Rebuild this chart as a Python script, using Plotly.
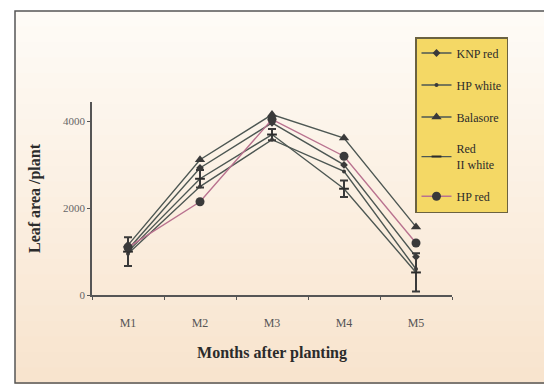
import plotly.graph_objects as go

# Leaf area per plant over five months for five cultivars
months = ["M1", "M2", "M3", "M4", "M5"]
knp_red = [1050, 2930, 3970, 3000, 880]
hp_white = [950, 2500, 3580, 2850, 600]
balasore = [1150, 3120, 4160, 3620, 1570]
red_ii_white = [1000, 2680, 3700, 2450, 520]
red_ii_white_err = [330, 200, 130, 190, 440]
hp_red = [1100, 2150, 4050, 3200, 1200]

y_ticks = [0, 2000, 4000]

SERIF = "Liberation Serif"
LINE = "#4d5753"
INK = "#2b2b2b"

fig = go.Figure()

series = [
    ("KNP red", knp_red, dict(symbol="diamond", size=6), LINE, None),
    ("HP white", hp_white, dict(symbol="circle", size=4), LINE, None),
    ("Balasore", balasore, dict(symbol="triangle-up", size=9), LINE, None),
    ("Red<br>II white", red_ii_white, dict(symbol="line-ew", size=7,
                                           line=dict(width=2, color=INK)), LINE,
     red_ii_white_err),
    ("HP red", hp_red, dict(symbol="circle", size=9), "#b9728f", None),
]

for i, (name, vals, mk, col, err) in enumerate(series):
    mk = dict(mk)
    mk.setdefault("color", "#3a3a3a")
    tr = go.Scatter(
        x=months, y=vals, name=name, mode="lines+markers",
        line=dict(color=col, width=1.4), marker=mk,
        legendgroup=f"g{i}",
    )
    if err is not None:
        tr.error_y = dict(type="data", array=err, visible=True,
                          color="#3a3a3a", thickness=2, width=4)
    fig.add_trace(tr)

# Page background: soft vertical wash inside a thin frame
def px_to_paper_x(px):
    return (px - 92) / 360

def px_to_paper_y(py):
    return (295 - py) / 193

top_rgb = (254, 251, 246)
bot_rgb = (248, 228, 206)
n_bands = 24
y0_px, y1_px = 11, 383
shapes = []
for k in range(n_bands):
    t = k / (n_bands - 1)
    r = round(top_rgb[0] + (bot_rgb[0] - top_rgb[0]) * t)
    g = round(top_rgb[1] + (bot_rgb[1] - top_rgb[1]) * t)
    b = round(top_rgb[2] + (bot_rgb[2] - top_rgb[2]) * t)
    a = y0_px + (y1_px - y0_px) * k / n_bands
    c = y0_px + (y1_px - y0_px) * (k + 1) / n_bands + 1
    shapes.append(dict(
        type="rect", xref="paper", yref="paper", layer="below",
        x0=px_to_paper_x(15), x1=px_to_paper_x(548),
        y0=px_to_paper_y(c), y1=px_to_paper_y(a),
        fillcolor=f"rgb({r},{g},{b})", line=dict(width=0),
    ))
shapes.append(dict(
    type="rect", xref="paper", yref="paper", layer="below",
    x0=px_to_paper_x(15), x1=px_to_paper_x(548),
    y0=px_to_paper_y(383), y1=px_to_paper_y(11),
    fillcolor="rgba(0,0,0,0)", line=dict(color="#555555", width=1.5),
))

fig.update_layout(
    width=544, height=387,
    margin=dict(l=92, r=92, t=102, b=92),
    paper_bgcolor="white",
    plot_bgcolor="rgba(0,0,0,0)",
    shapes=shapes,
    showlegend=True,
    legend=dict(
        x=px_to_paper_x(415), y=px_to_paper_y(37),
        xanchor="left", yanchor="top",
        bgcolor="#f4d865", bordercolor="#6b6240", borderwidth=1.5,
        font=dict(family=SERIF, size=12, color=INK),
        traceorder="grouped", tracegroupgap=13, itemwidth=30,
    ),
    xaxis=dict(
        type="category", range=[-0.5, 4.5],
        showgrid=False, zeroline=False,
        showline=True, linecolor="#555555", linewidth=1.5,
        ticks="outside", ticklen=3, tickcolor="#555555",
        tickson="boundaries",
        tickfont=dict(family=SERIF, size=12, color="#555555"),
        ticklabelstandoff=16,
        title=dict(text="<b>Months after planting</b>",
                   font=dict(family=SERIF, size=16, color=INK), standoff=18),
    ),
    yaxis=dict(
        range=[0, 4450], tickvals=y_ticks,
        showgrid=False, zeroline=False,
        showline=True, linecolor="#555555", linewidth=1.5,
        ticks="outside", ticklen=3, tickcolor="#555555",
        tickfont=dict(family=SERIF, size=11, color="#666666"),
        title=dict(text="<b>Leaf area /plant</b>",
                   font=dict(family=SERIF, size=16, color=INK), standoff=18),
    ),
)

fig.write_html("out.html")
